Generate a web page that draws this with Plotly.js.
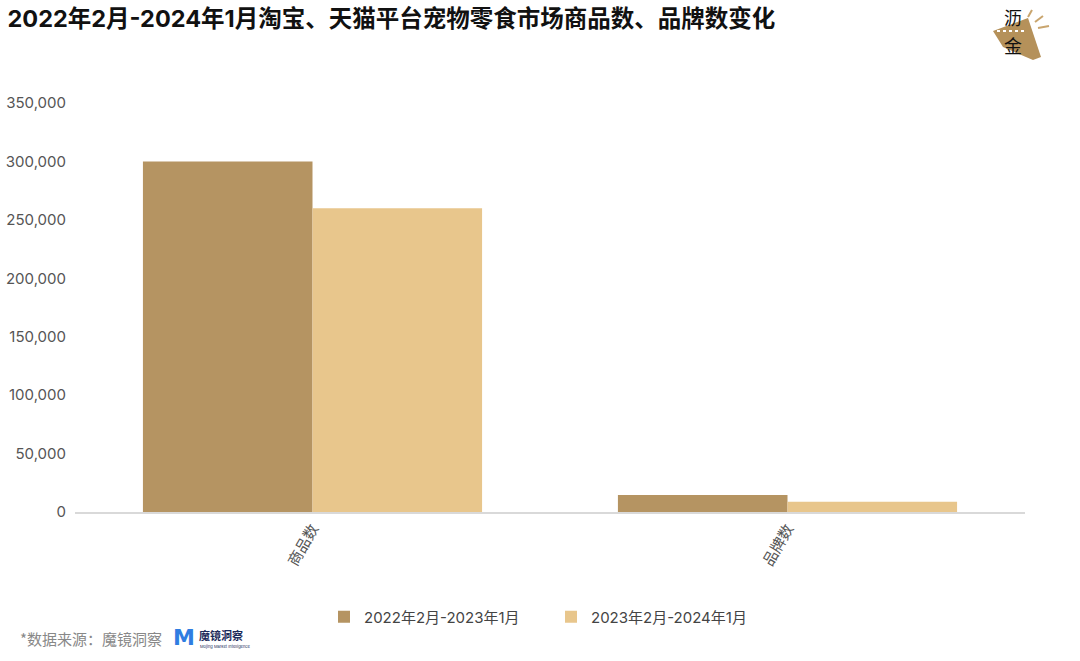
<!DOCTYPE html>
<html><head><meta charset="utf-8">
<script src="https://cdn.plot.ly/plotly-3.0.1.min.js"></script>
<style>body{margin:0;background:#fff}#c{width:1080px;height:661px}</style>
</head><body><div id="c"></div>
<script>
const categories = ["商品数", "品牌数"];
const seriesNames = ["2022年2月-2023年1月", "2023年2月-2024年1月"];
const series2022 = [300000, 14500];
const series2023 = [260000, 8800];
const yTicks = [0, 50000, 100000, 150000, 200000, 250000, 300000, 350000];
const yTickText = ["0", "50,000", "100,000", "150,000", "200,000", "250,000", "300,000", "350,000"];

const font = "Inter, 'Noto Sans CJK SC', sans-serif";
const cjk = "'Noto Sans CJK SC', sans-serif";
const traces = [
  {type:"bar", name:seriesNames[0], x:categories, y:series2022, marker:{color:"#b59462"}, hoverinfo:"none"},
  {type:"bar", name:seriesNames[1], x:categories, y:series2023, marker:{color:"#e8c68c"}, hoverinfo:"none"}
];
const W=950, H=409;
function px(x){return (x-75)/W;} function py(y){return (512-y)/H;}
const layout = {
  width:1080, height:661,
  margin:{l:75, r:55, t:103, b:149},
  paper_bgcolor:"#fff", plot_bgcolor:"#fff",
  font:{family:font, color:"#555"},
  barmode:"group", bargap:0.286, bargroupgap:0,
  showlegend:true,
  legend:{orientation:"h", x:px(324), xanchor:"left", y:py(617), yanchor:"middle", font:{size:15, color:"#444", family:font}, itemwidth:30, entrywidth:182, entrywidthmode:"pixels", traceorder:"normal"},
  title:{text:"<b>2022年2月-2024年1月淘宝、天猫平台宠物零食市场商品数、品牌数变化</b>", x:0.007, xanchor:"left", y:0.972, yanchor:"middle", font:{size:23.5, color:"#111", family:font}},
  xaxis:{tickangle:-60, tickfont:{size:15, color:"#555", family:cjk}, showline:true, linecolor:"#d9d9d9", linewidth:2, ticks:"", showgrid:false},
  yaxis:{range:[0,350000], tickvals:yTicks, ticktext:yTickText, tickfont:{size:15, color:"#555", family:font}, showgrid:false, zeroline:false, showline:false, ticks:"", ticklabelstandoff:8},
  shapes:[
    {type:"path", xref:"paper", yref:"paper", fillcolor:"#b5915a", line:{width:0},
     path:`M ${px(993)} ${py(31)} L ${px(1028)} ${py(18)} L ${px(1041)} ${py(57)} L ${px(1033)} ${py(60)} L ${px(1003)} ${py(47)} Z`},
    {type:"line", xref:"paper", yref:"paper", x0:px(997), y0:py(31), x1:px(1026), y1:py(31), line:{color:"#ffffff", width:2, dash:"dot"}},
    {type:"line", xref:"paper", yref:"paper", x0:px(1028), y0:py(17), x1:px(1032), y1:py(10), line:{color:"#c9a56e", width:2}},
    {type:"line", xref:"paper", yref:"paper", x0:px(1035), y0:py(22), x1:px(1043), y1:py(16), line:{color:"#c9a56e", width:2}},
    {type:"line", xref:"paper", yref:"paper", x0:px(1038), y0:py(28), x1:px(1049), y1:py(26), line:{color:"#c9a56e", width:2}}
  ],
  annotations:[
    {text:"*数据来源：魔镜洞察", xref:"paper", yref:"paper", x:px(18), y:py(638), xanchor:"left", yanchor:"middle", showarrow:false, font:{size:15, color:"#888", family:cjk}},
    {text:"<b>M</b>", xref:"paper", yref:"paper", x:px(184), y:py(637), xanchor:"center", yanchor:"middle", showarrow:false, font:{size:22, color:"#2f7de1", family:"DejaVu Sans"}},
    {text:"<b>魔镜洞察</b>", xref:"paper", yref:"paper", x:px(197), y:py(635), xanchor:"left", yanchor:"middle", showarrow:false, font:{size:11, color:"#1a2a5a", family:cjk}},
    {text:"Mojing Market Intelligence", xref:"paper", yref:"paper", x:px(198), y:py(646), xanchor:"left", yanchor:"middle", showarrow:false, font:{size:4, color:"#1a2a5a", family:font}},
    {text:"沥", xref:"paper", yref:"paper", x:px(1013), y:py(17), xanchor:"center", yanchor:"middle", showarrow:false, font:{size:18, color:"#111", family:cjk}},
    {text:"金", xref:"paper", yref:"paper", x:px(1013), y:py(45), xanchor:"center", yanchor:"middle", showarrow:false, font:{size:18, color:"#111", family:cjk}}
  ]
};
Plotly.newPlot("c", traces, layout, {displayModeBar:false, staticPlot:true});
</script></body></html>
